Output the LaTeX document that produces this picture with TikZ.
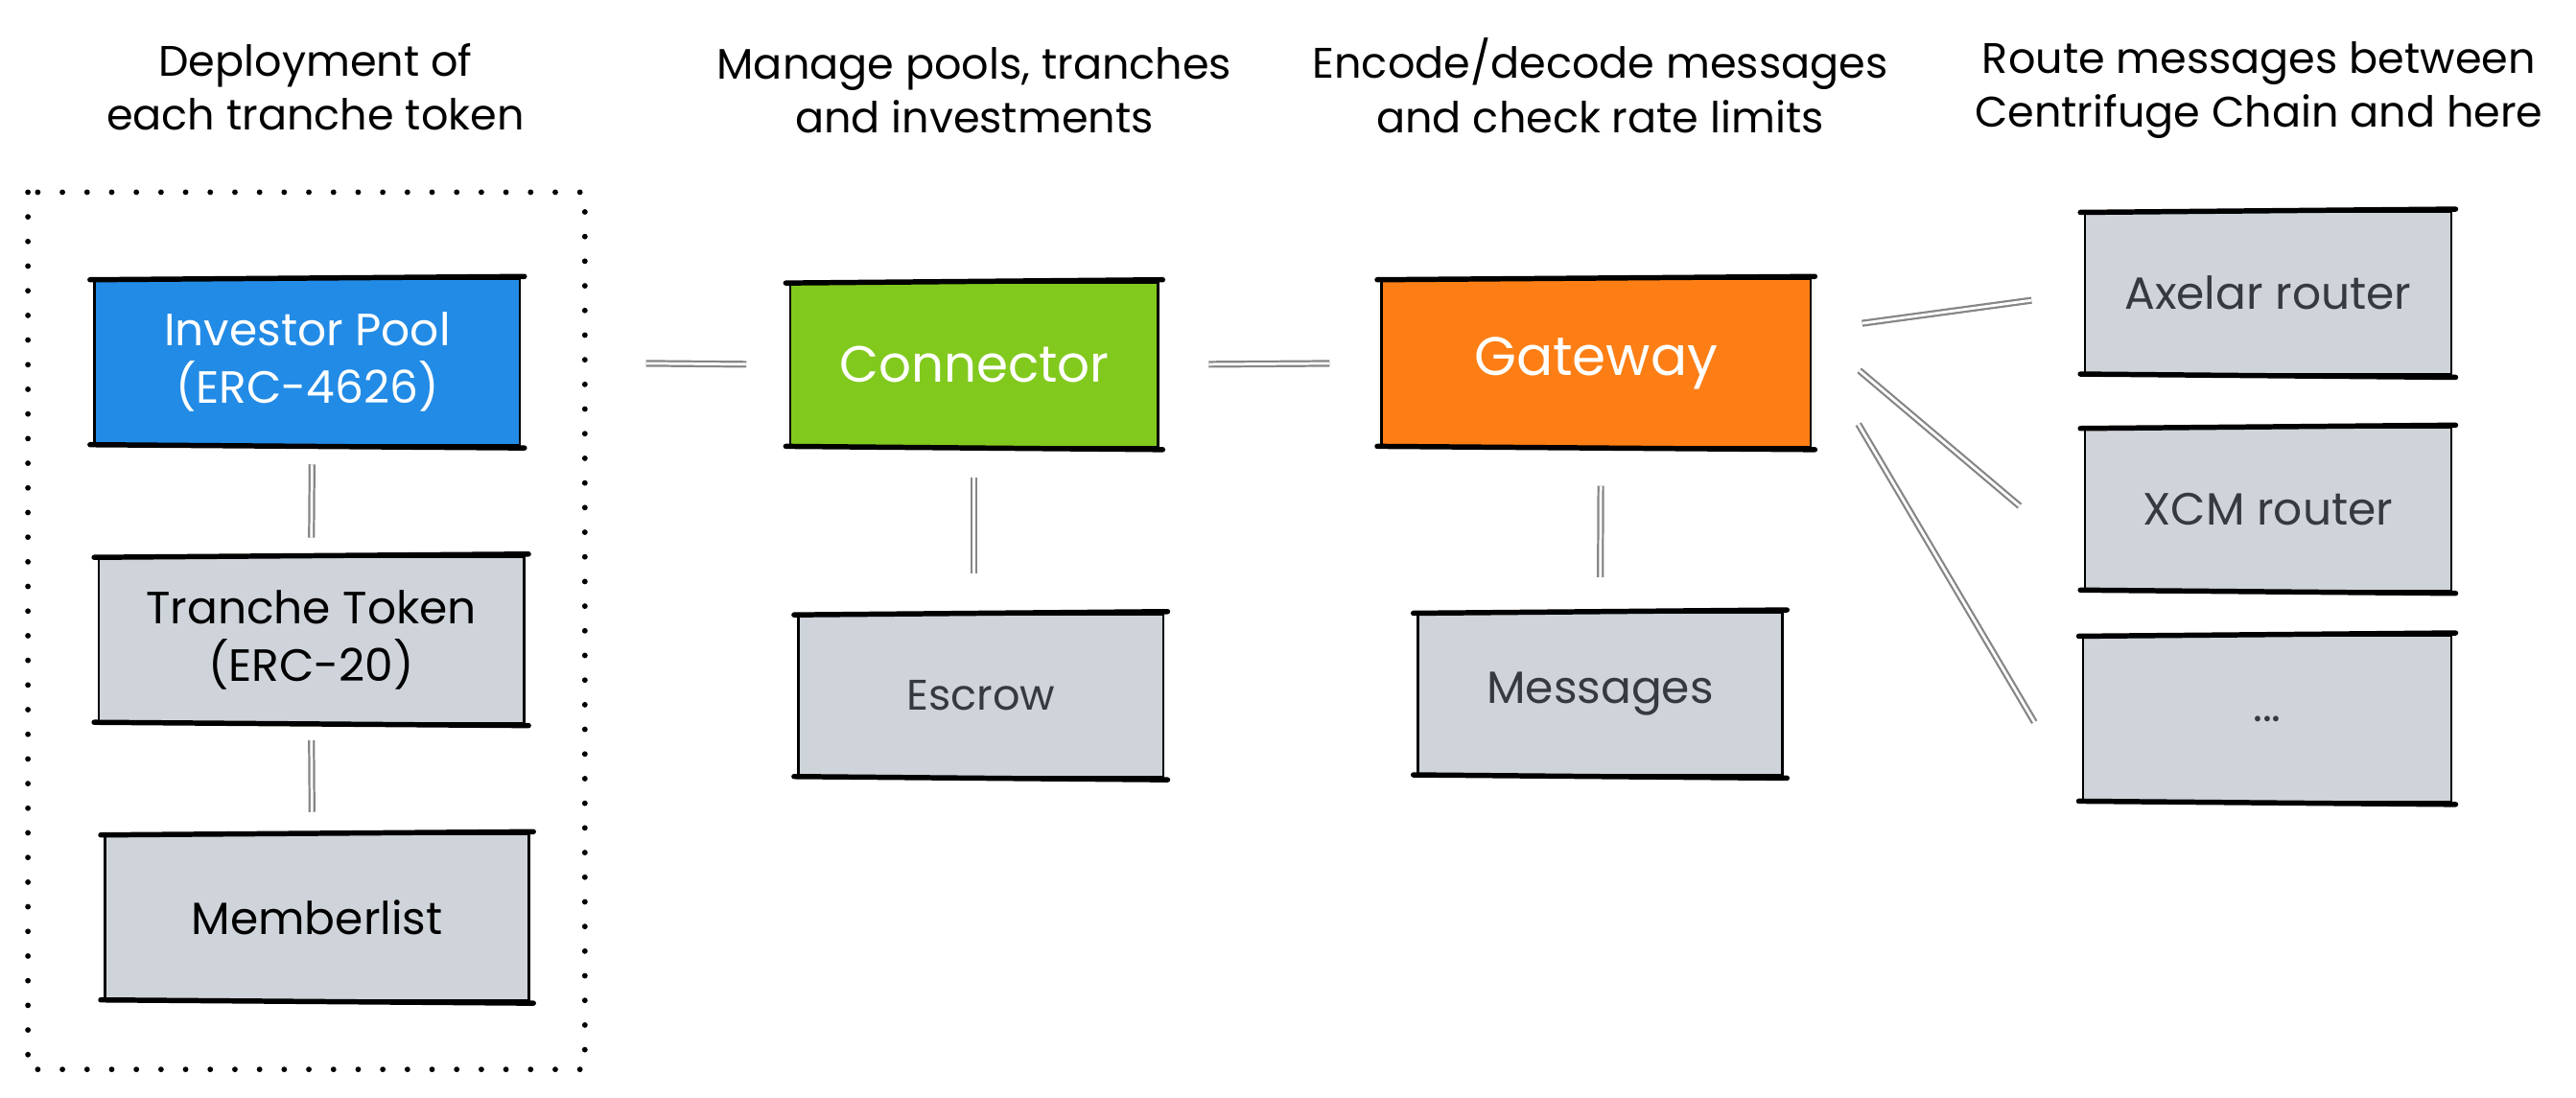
\documentclass[tikz,border=0pt]{standalone}
\usepackage{fontspec}
\setmainfont{Poppins}
\usetikzlibrary{calc}
\definecolor{cblue}{HTML}{228BE6}
\definecolor{cgreen}{HTML}{82C91E}
\definecolor{corange}{HTML}{FD7E14}
\definecolor{cgray}{HTML}{CED4DA}
\definecolor{cdark}{HTML}{343A40}
\definecolor{clink}{HTML}{868686}
\newcommand\skt[1]{%
  \draw[line width=3.2pt, line cap=round] ($(#1.north west)+(-2,1)$) -- ($(#1.north east)+(2,-1)$);
  \draw[line width=3.2pt, line cap=round] ($(#1.south west)+(-2,-1)$) -- ($(#1.south east)+(2,1)$);
}
\begin{document}
\begin{tikzpicture}[x=1pt,y=-1pt,
  title/.style={align=center, font=\fontsize{26}{33}\selectfont, text=black, inner sep=0pt},
  box/.style={rectangle, draw=black, line width=1.4pt, inner sep=0pt, align=center,
    minimum width=223pt, minimum height=100pt, font=\fontsize{27.5}{35}\selectfont},
  graybox/.style={box, fill=cgray, text=cdark},
  bigbox/.style={box, font=\fontsize{31}{35}\selectfont, text=white},
  link/.style={draw=clink, line width=1.3pt, double=white, double distance=1.6pt}]
\useasboundingbox (0,0) rectangle (1568,668);
% group frame
\draw[line width=3.4pt, line cap=round, dash pattern=on 0pt off 15pt] (17,117) rectangle (356,651);
% titles
\node[title] (t1) at (192,53) {Deployment of\\each tranche token};
\node[title] (t2) at (593,55) {Manage pools, tranches\\and investments};
\node[title] (t3) at (974,52) {Encode/decode messages\\and check rate limits};
\node[title] (t4) at (1375,55) {Route messages between\\Centrifuge Chain and here};
% boxes
\node[box, fill=cblue, text=white, minimum width=259pt, minimum height=101pt] (inv) at (187,220.5) {Investor Pool\\(ERC-4626)};
\node[graybox, text=black, minimum width=259pt, minimum height=101pt] (tra) at (189.5,389.5) {Tranche Token\\(ERC-20)};
\node[graybox, text=black, minimum width=258pt, minimum height=101pt] (mem) at (193,558.5) {Memberlist};
\node[bigbox, fill=cgreen, minimum width=224pt] (con) at (593,222) {Connector};
\node[graybox, minimum width=222pt, minimum height=99pt, font=\fontsize{26}{34}\selectfont] (esc) at (597,423.5) {Escrow};
\node[bigbox, fill=corange, minimum width=261pt, minimum height=102pt, font=\fontsize{33}{35}\selectfont] (gat) at (971.5,221) {Gateway};
\node[graybox, minimum width=222pt, minimum height=99pt] (msg) at (974,422.5) {Messages};
\node[graybox, minimum height=99pt] (axe) at (1380.5,178.5) {Axelar router};
\node[graybox, minimum height=99pt] (xcm) at (1380.5,310) {XCM router};
\node[graybox, minimum width=224pt, minimum height=101pt] (etc) at (1380,437.5) {...};
\foreach \n in {inv,tra,mem,con,esc,gat,msg,axe,xcm,etc} {\skt{\n}}
% links
\draw[link, shorten <=76pt, shorten >=26pt] (inv.east) -- (con.west);
\draw[link, shorten <=30pt, shorten >=31pt] (con.east) -- (gat.west);
\draw[link, shorten <=18pt, shorten >=24pt] (con.south) -- (con.south |- esc.north);
\draw[link, shorten <=23pt, shorten >=21pt] ($(gat.south)+(3,0)$) -- (msg.north);
\draw[link, shorten <=11pt, shorten >=11pt] ($(inv.south)+(3,0)$) -- (tra.north);
\draw[link, shorten <=10pt, shorten >=13pt] (tra.south) -- ($(mem.north)+(-3,0)$);
\draw[link, shorten <=31pt, shorten >=32pt] ($(gat.east)+(0,-20)$) -- (axe.west);
\draw[link, shorten <=38pt, shorten >=51pt] ($(gat.east)+(0,-20)$) -- ($(xcm.west)+(0,31)$);
\draw[link, shorten <=56pt, shorten >=57pt] ($(gat.east)+(0,-11)$) -- (etc.south west);
\end{tikzpicture}
\end{document}
